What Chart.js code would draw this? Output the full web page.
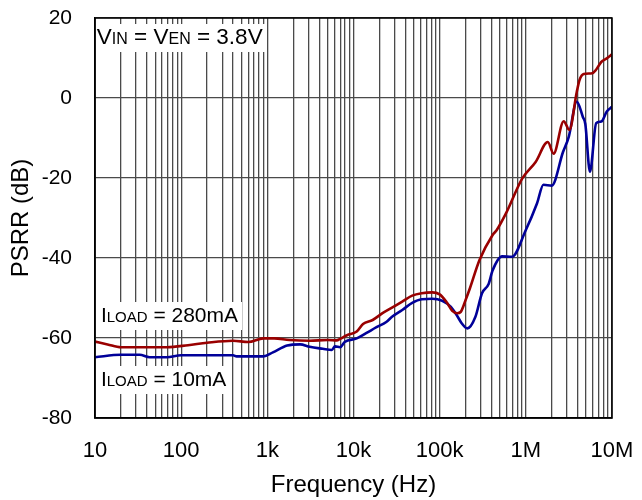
<!DOCTYPE html>
<html><head><meta charset="utf-8">
<script src="https://cdn.jsdelivr.net/npm/chart.js@4/dist/chart.umd.min.js"></script>
<style>html,body{margin:0;padding:0;background:#fff}#wrap{width:642px;height:500px}</style>
</head><body><div id="wrap"><canvas id="c" width="642" height="500"></canvas></div>
<script>
// ---- data ----
const freq280 = [10,14,20,40,68,120,200,400,600,900,1200,1800,3100,5000,6400,7000,8400,10900,12900,16700,21700,28000,36800,48000,62000,82000,100000,120000,140000,160000,175000,200000,225000,290000,410000,460000,590000,910000,1300000,1800000,2100000,2750000,3200000,3900000,4200000,4700000,5900000,6500000,7500000,8700000,10000000];
const psrr280 = [-60.9,-61.6,-62.3,-62.3,-62.3,-61.8,-61.2,-60.7,-61.0,-60.1,-60.1,-60.5,-60.7,-60.5,-60.6,-60.2,-59.3,-58.4,-56.5,-55.5,-53.8,-52.4,-50.9,-49.4,-48.8,-48.6,-49.1,-51.0,-53.2,-53.8,-53.5,-50.5,-47.5,-40.5,-34.3,-33.0,-28.8,-20.1,-16.0,-11.0,-13.9,-5.8,-8.0,1.5,4.5,6.0,6.2,7.0,9.0,9.9,10.9];
const freq10 = [10,20,33,43,68,100,400,440,900,1160,1700,2400,3100,4400,5600,6100,7000,7900,10900,14000,18500,24000,28000,36800,48000,62000,82000,107000,135000,160000,180000,210000,260000,310000,370000,410000,530000,690000,1000000,1350000,1600000,2000000,2700000,3150000,3900000,4600000,4900000,5550000,6550000,7500000,8700000,10000000];
const psrr10 = [-64.8,-64.2,-64.2,-64.8,-64.8,-64.3,-64.3,-64.6,-64.6,-63.6,-61.9,-61.6,-62.2,-62.7,-63.0,-62.1,-62.3,-61.0,-60.1,-58.8,-57.3,-56.0,-54.7,-53.0,-51.2,-50.3,-50.2,-50.7,-52.2,-54.5,-56.3,-57.6,-54.7,-48.8,-46.5,-43.2,-39.6,-39.7,-33.0,-26.3,-21.7,-21.9,-13.5,-9.7,-0.9,-4.8,-6.5,-18.4,-6.3,-5.9,-3.4,-2.2];
const xDecades = [10,100,1000,10000,100000,1000000,10000000];
const xTickLabels = ['10','100','1k','10k','100k','1M','10M'];
const yMin = -80, yMax = 20, yStep = 20;
const seriesNames = ['ILOAD = 280mA','ILOAD = 10mA'];

// annotations: segments [text, isSubscript]
const notes = [
  {x:10.5, y:13.5, big:22.5, small:16, segs:[['V',0],['IN',1],[' = V',0],['EN',1],[' = 3.8V',0]]},
  {x:11.7, y:-56, big:21, small:15, segs:[['I',0],['LOAD',1],[' = 280mA',0]]},
  {x:11.7, y:-72, big:21, small:15, segs:[['I',0],['LOAD',1],[' = 10mA',0]]}
];

// ---- build ----
const xTickValues = [];
for (let i = 0; i < xDecades.length - 1; i++) {
  for (let k = 1; k <= 9; k++) xTickValues.push(xDecades[i] * k);
}
xTickValues.push(xDecades[xDecades.length - 1]);

const FONT = "'Liberation Sans', Arial, sans-serif";

const notesPlugin = {
  id: 'notes',
  beforeDatasetsDraw(chart) {
    const ctx = chart.ctx, xs = chart.scales.x, ys = chart.scales.y;
    ctx.save();
    notes.forEach(n => {
      const big = 'normal ' + n.big + 'px ' + FONT, small = 'normal ' + n.small + 'px ' + FONT;
      const px = xs.getPixelForValue(n.x), py = ys.getPixelForValue(n.y);
      let w = 0;
      n.segs.forEach(s => { ctx.font = s[1] ? small : big; w += ctx.measureText(s[0]).width; });
      ctx.fillStyle = '#fff';
      ctx.fillRect(chart.chartArea.left + 1, py - 20, px - chart.chartArea.left + w + 3, 28);
      ctx.fillStyle = '#000';
      ctx.textBaseline = 'alphabetic';
      ctx.textAlign = 'left';
      let cx = px;
      n.segs.forEach(s => { ctx.font = s[1] ? small : big; ctx.fillText(s[0], cx, py); cx += ctx.measureText(s[0]).width; });
    });
    ctx.restore();
  },
  afterDraw(chart) {
    const {left, top, right, bottom} = chart.chartArea;
    const ctx = chart.ctx;
    ctx.save();
    ctx.strokeStyle = '#000';
    ctx.lineWidth = 1.5;
    ctx.strokeRect(left, top, right - left, bottom - top);
    ctx.restore();
  }
};

new Chart(document.getElementById('c'), {
  type: 'line',
  data: {
    datasets: [
      {label: seriesNames[0], data: freq280.map((f, i) => ({x: f, y: psrr280[i]})), borderColor: '#990000', borderWidth: 2.6, pointRadius: 0, cubicInterpolationMode: 'monotone', fill: false},
      {label: seriesNames[1], data: freq10.map((f, i) => ({x: f, y: psrr10[i]})), borderColor: '#000099', borderWidth: 2.6, pointRadius: 0, cubicInterpolationMode: 'monotone', fill: false}
    ]
  },
  options: {
    responsive: false,
    animation: false,
    devicePixelRatio: 1,
    layout: {padding: {top: 18, right: 30, left: 0, bottom: 0}},
    plugins: {legend: {display: false}, tooltip: {enabled: false}},
    scales: {
      x: {
        type: 'logarithmic', min: xDecades[0], max: xDecades[xDecades.length - 1],
        afterBuildTicks: s => { s.ticks = xTickValues.map(v => ({value: v})); },
        afterFit: s => { s.height = 82; s.paddingLeft = 0; s.paddingRight = 0; s.paddingTop = 0; s.paddingBottom = 0; },
        ticks: {
          autoSkip: false, maxRotation: 0, minRotation: 0, padding: 20, color: '#000',
          font: {family: FONT, size: 22},
          callback: v => { const i = xDecades.indexOf(v); return i >= 0 ? xTickLabels[i] : ''; }
        },
        grid: {color: '#4a4a4a', lineWidth: 1.3, drawTicks: false},
        border: {color: '#000', width: 1.5},
        title: {display: true, text: 'Frequency (Hz)', color: '#000', font: {family: FONT, size: 24}, padding: {top: 0, bottom: 0}}
      },
      y: {
        min: yMin, max: yMax,
        afterFit: s => { s.width = 95; s.paddingLeft = 0; s.paddingRight = 0; s.paddingTop = 0; s.paddingBottom = 0; },
        ticks: {stepSize: yStep, padding: 23, color: '#000', font: {family: FONT, size: 21}},
        grid: {color: '#4a4a4a', lineWidth: 1.3, drawTicks: false},
        border: {color: '#000', width: 1.5},
        title: {display: true, text: 'PSRR (dB)', color: '#000', font: {family: FONT, size: 24}, padding: {top: 7, bottom: 0}}
      }
    }
  },
  plugins: [notesPlugin]
});
</script>
</body></html>
